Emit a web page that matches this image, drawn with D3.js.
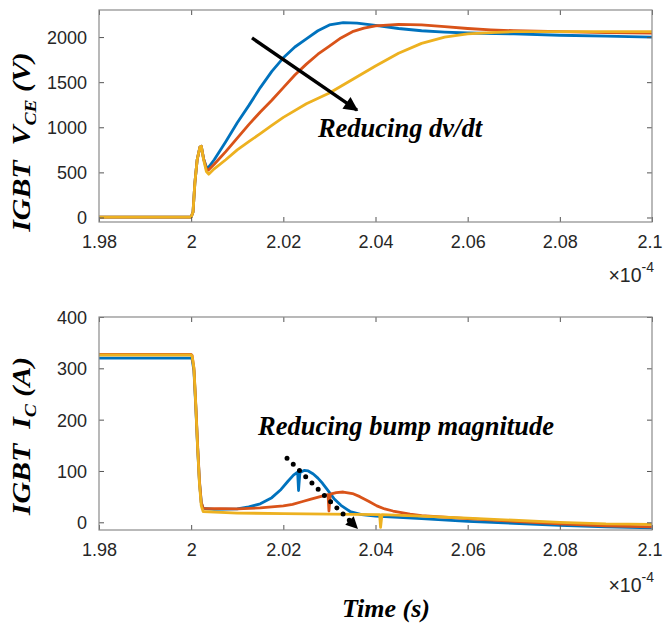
<!DOCTYPE html>
<html>
<head>
<meta charset="utf-8">
<script src="https://cdn.jsdelivr.net/npm/d3@7"></script>
<style>
body { margin: 0; background: #fff; }
svg { display: block; }
</style>
</head>
<body>
<svg id="chart" width="663" height="626"></svg>
<script>
'use strict';

// time axis in units of 1e-4 s
const timeTicks = [1.98, 2, 2.02, 2.04, 2.06, 2.08, 2.1];
const timeTickLabels = ['1.98', '2', '2.02', '2.04', '2.06', '2.08', '2.1'];
const vceTicks = [0, 500, 1000, 1500, 2000];
const icTicks = [0, 100, 200, 300, 400];
const seriesColors = ['#0072BD', '#D95319', '#EDB120'];

// IGBT V_CE (V): [t, v]
const vceBlue = [[1.98, 5], [1.99, 5], [2.0, 5], [2.0004, 60], [2.0008, 380], [2.0013, 640], [2.0019, 780], [2.0022, 790], [2.0027, 650],
    [2.0033, 560], [2.0036, 545], [2.005, 640], [2.0075, 840], [2.01, 1050], [2.0125, 1240], [2.015, 1440], [2.0175, 1620],
    [2.02, 1770], [2.0225, 1890], [2.025, 1980], [2.0275, 2070], [2.03, 2135], [2.033, 2160], [2.036, 2155], [2.04, 2130],
    [2.045, 2095], [2.05, 2070], [2.055, 2055], [2.06, 2045], [2.07, 2035], [2.08, 2020], [2.09, 2010], [2.1, 2000]];
const vceOrange = [[1.98, 5], [1.99, 5], [2.0, 5], [2.0004, 60], [2.0008, 380], [2.0013, 640], [2.0019, 780], [2.0022, 790], [2.0027, 650],
    [2.0033, 540], [2.0037, 525], [2.005, 590], [2.0075, 730], [2.01, 880], [2.0125, 1030], [2.015, 1170], [2.0175, 1300],
    [2.02, 1440], [2.0225, 1580], [2.025, 1700], [2.0275, 1810], [2.03, 1900], [2.0325, 1990], [2.035, 2060], [2.0375, 2100],
    [2.04, 2125], [2.045, 2140], [2.05, 2135], [2.055, 2115], [2.06, 2095], [2.065, 2080], [2.07, 2070], [2.08, 2060],
    [2.09, 2050], [2.1, 2045]];
const vceYellow = [[1.98, 5], [1.99, 5], [2.0, 5], [2.0004, 60], [2.0008, 380], [2.0013, 640], [2.0019, 780], [2.0022, 790], [2.0027, 640],
    [2.0033, 510], [2.0038, 480], [2.005, 540], [2.0075, 640], [2.01, 750], [2.0125, 840], [2.015, 930], [2.0175, 1020],
    [2.02, 1110], [2.025, 1260], [2.03, 1380], [2.035, 1530], [2.04, 1680], [2.045, 1820], [2.05, 1930], [2.055, 2000],
    [2.06, 2035], [2.065, 2050], [2.07, 2060], [2.08, 2060], [2.09, 2060], [2.1, 2060]];

// IGBT I_C (A): [t, i]
const icBlue = [[1.98, 320], [1.99, 320], [2.0, 320], [2.0002, 318], [2.0006, 295], [2.001, 225], [2.0014, 145], [2.0018, 78],
    [2.0022, 38], [2.0026, 27], [2.005, 25], [2.01, 26], [2.0125, 30], [2.015, 36], [2.0175, 48], [2.0195, 64], [2.021, 80],
    [2.0222, 92], [2.0231, 98], [2.0233, 62], [2.0236, 97], [2.0245, 101], [2.0254, 100], [2.0265, 94], [2.0275, 86],
    [2.0285, 76], [2.0295, 64], [2.031, 46], [2.0325, 33], [2.0345, 21], [2.037, 15], [2.04, 12], [2.05, 7], [2.06, 2],
    [2.07, -2], [2.08, -6], [2.09, -9], [2.1, -11]];
const icOrange = [[1.98, 327], [1.99, 327], [2.0, 327], [2.0002, 325], [2.0006, 300], [2.001, 230], [2.0014, 150], [2.0018, 80],
    [2.0022, 38], [2.0026, 27], [2.01, 26], [2.015, 28], [2.02, 32], [2.022, 35], [2.024, 40], [2.026, 45], [2.028, 50],
    [2.0297, 54], [2.0299, 22], [2.0302, 55], [2.0315, 58], [2.033, 59], [2.035, 56], [2.0366, 50], [2.0385, 41],
    [2.0403, 32], [2.042, 26], [2.0438, 22], [2.0475, 16], [2.05, 13], [2.06, 7], [2.07, 2], [2.08, -3], [2.09, -7], [2.1, -9]];
const icYellow = [[1.98, 326], [1.99, 326], [2.0, 326], [2.0002, 324], [2.0006, 300], [2.001, 228], [2.0014, 145], [2.0018, 75],
    [2.0022, 32], [2.0026, 21], [2.01, 18], [2.02, 17], [2.03, 16], [2.0409, 15], [2.0411, -10], [2.0414, 15], [2.05, 12],
    [2.06, 8], [2.07, 4], [2.08, 0], [2.09, -3], [2.1, -4]];

// annotation anchors in data units
const vceArrow = [[2.0132, 1990], [2.036, 1190]];
const icArrow = [[2.0208, 125], [2.0362, -13]];

const svg = d3.select('#chart');
const x = d3.scaleLinear().domain([1.98, 2.1]).range([99, 652]);
const yTop = d3.scaleLinear().domain([-50, 2300]).range([222, 10]);
const yBot = d3.scaleLinear().domain([-15, 400]).range([530, 317]);

const serif = '"Liberation Serif", "Times New Roman", serif';
const sans = 'Arial, "Liberation Sans", sans-serif';

svg.append('defs').append('marker')
    .attr('id', 'head')
    .attr('viewBox', '0 0 10 10')
    .attr('refX', 9).attr('refY', 5)
    .attr('markerWidth', 4.6).attr('markerHeight', 4.2)
    .attr('markerUnits', 'strokeWidth')
    .attr('orient', 'auto')
    .append('path').attr('d', 'M0,0 L10,5 L0,10 Z').attr('fill', '#000');

function drawPanel(y, ticks, series, label, sub, unit, xMark, labelMid)
{
    const g = svg.append('g');
    const line = d3.line().x(d => x(d[0])).y(d => y(d[1]));
    const [y0, y1] = y.range();

    const clipId = 'clip' + Math.round(y0);
    g.append('clipPath').attr('id', clipId)
        .append('rect').attr('x', 99).attr('y', y1).attr('width', 553).attr('height', y0 - y1);

    const lines = g.append('g').attr('clip-path', 'url(#' + clipId + ')');
    series.forEach((s, i) => {
        lines.append('path')
            .attr('d', line(s))
            .attr('fill', 'none')
            .attr('stroke', seriesColors[i])
            .attr('stroke-width', 2.8)
            .attr('stroke-linejoin', 'round');
    });

    const bottom = g.append('g').attr('transform', 'translate(0,' + y0 + ')')
        .call(d3.axisBottom(x).tickValues(timeTicks).tickFormat((d, i) => timeTickLabels[i]).tickSize(-5).tickPadding(13));
    g.append('g').attr('transform', 'translate(0,' + y1 + ')')
        .call(d3.axisTop(x).tickValues(timeTicks).tickFormat('').tickSize(-5));
    const left = g.append('g').attr('transform', 'translate(99,0)')
        .call(d3.axisLeft(y).tickValues(ticks).tickFormat(d3.format('d')).tickSize(-5).tickPadding(12));
    g.append('g').attr('transform', 'translate(652,0)')
        .call(d3.axisRight(y).tickValues(ticks).tickFormat('').tickSize(-5));

    g.selectAll('.domain').remove();
    g.selectAll('.tick line').attr('stroke', '#555');
    g.selectAll('.tick text')
        .attr('fill', '#262626')
        .style('font-family', sans)
        .style('font-size', '18px');
    left.selectAll('.tick text').attr('dy', '0.36em');
    bottom.selectAll('.tick text').filter(d => d === 2.1).attr('dx', -2.5);

    g.append('rect')
        .attr('x', 99).attr('y', y1).attr('width', 553).attr('height', y0 - y1)
        .attr('fill', 'none').attr('stroke', '#8a8a8a').attr('stroke-width', 1.2);

    // x10^-4 exponent label
    const ex = g.append('text')
        .attr('x', 654).attr('y', xMark)
        .attr('text-anchor', 'end')
        .attr('fill', '#262626')
        .style('font-family', sans)
        .style('font-size', '19.5px');
    ex.append('tspan').text('\u00d710');
    ex.append('tspan').attr('dy', -10).style('font-size', '14px').text('-4');

    // y label
    const yl = g.append('text')
        .attr('transform', 'translate(30,' + labelMid + ') rotate(-90) scale(1.15,1)')
        .attr('text-anchor', 'middle')
        .attr('fill', '#000')
        .style('font-family', serif)
        .style('font-weight', 'bold')
        .style('font-style', 'italic')
        .style('font-size', '26px');
    yl.append('tspan').text(label);
    yl.append('tspan').attr('dy', 6).style('font-size', '17px').text(sub);
    yl.append('tspan').attr('dy', -6).text(unit);

    return g;
}

const topPanel = drawPanel(yTop, vceTicks, [vceBlue, vceOrange, vceYellow], 'IGBT\u00a0\u00a0V', 'CE', '\u00a0(V)', 282, 142);
const botPanel = drawPanel(yBot, icTicks, [icBlue, icOrange, icYellow], 'IGBT\u00a0\u00a0I', 'C', '\u00a0(A)', 592, 436);

topPanel.append('line')
    .attr('x1', x(vceArrow[0][0])).attr('y1', yTop(vceArrow[0][1]))
    .attr('x2', x(vceArrow[1][0])).attr('y2', yTop(vceArrow[1][1]))
    .attr('stroke', '#000').attr('stroke-width', 3.4)
    .attr('marker-end', 'url(#head)');

topPanel.append('text')
    .attr('x', x(2.0275)).attr('y', yTop(892))
    .style('font-family', serif).style('font-weight', 'bold').style('font-style', 'italic')
    .style('font-size', '26.5px')
    .text('Reducing dv/dt');

// dotted arrow
const bx1 = x(icArrow[0][0]), by1 = yBot(icArrow[0][1]);
const bx2 = x(icArrow[1][0]), by2 = yBot(icArrow[1][1]);
const ang = Math.atan2(by2 - by1, bx2 - bx1);
const headLen = 12, headW = 6;
botPanel.append('line')
    .attr('x1', bx1).attr('y1', by1)
    .attr('x2', bx2 - headLen * Math.cos(ang)).attr('y2', by2 - headLen * Math.sin(ang))
    .attr('stroke', '#000').attr('stroke-width', 5)
    .attr('stroke-linecap', 'round')
    .attr('stroke-dasharray', '0 8.8');
const hb = [bx2 - headLen * Math.cos(ang), by2 - headLen * Math.sin(ang)];
botPanel.append('path')
    .attr('d', 'M' + bx2 + ',' + by2
        + 'L' + (hb[0] + headW * Math.sin(ang)) + ',' + (hb[1] - headW * Math.cos(ang))
        + 'L' + (hb[0] - headW * Math.sin(ang)) + ',' + (hb[1] + headW * Math.cos(ang)) + 'Z')
    .attr('fill', '#000');

botPanel.append('text')
    .attr('x', x(2.0145)).attr('y', yBot(170))
    .style('font-family', serif).style('font-weight', 'bold').style('font-style', 'italic')
    .style('font-size', '26.5px')
    .text('Reducing bump magnitude');

svg.append('text')
    .attr('x', 386).attr('y', 617)
    .attr('text-anchor', 'middle')
    .style('font-family', serif).style('font-weight', 'bold').style('font-style', 'italic')
    .style('font-size', '26px')
    .text('Time (s)');
</script>
</body>
</html>
